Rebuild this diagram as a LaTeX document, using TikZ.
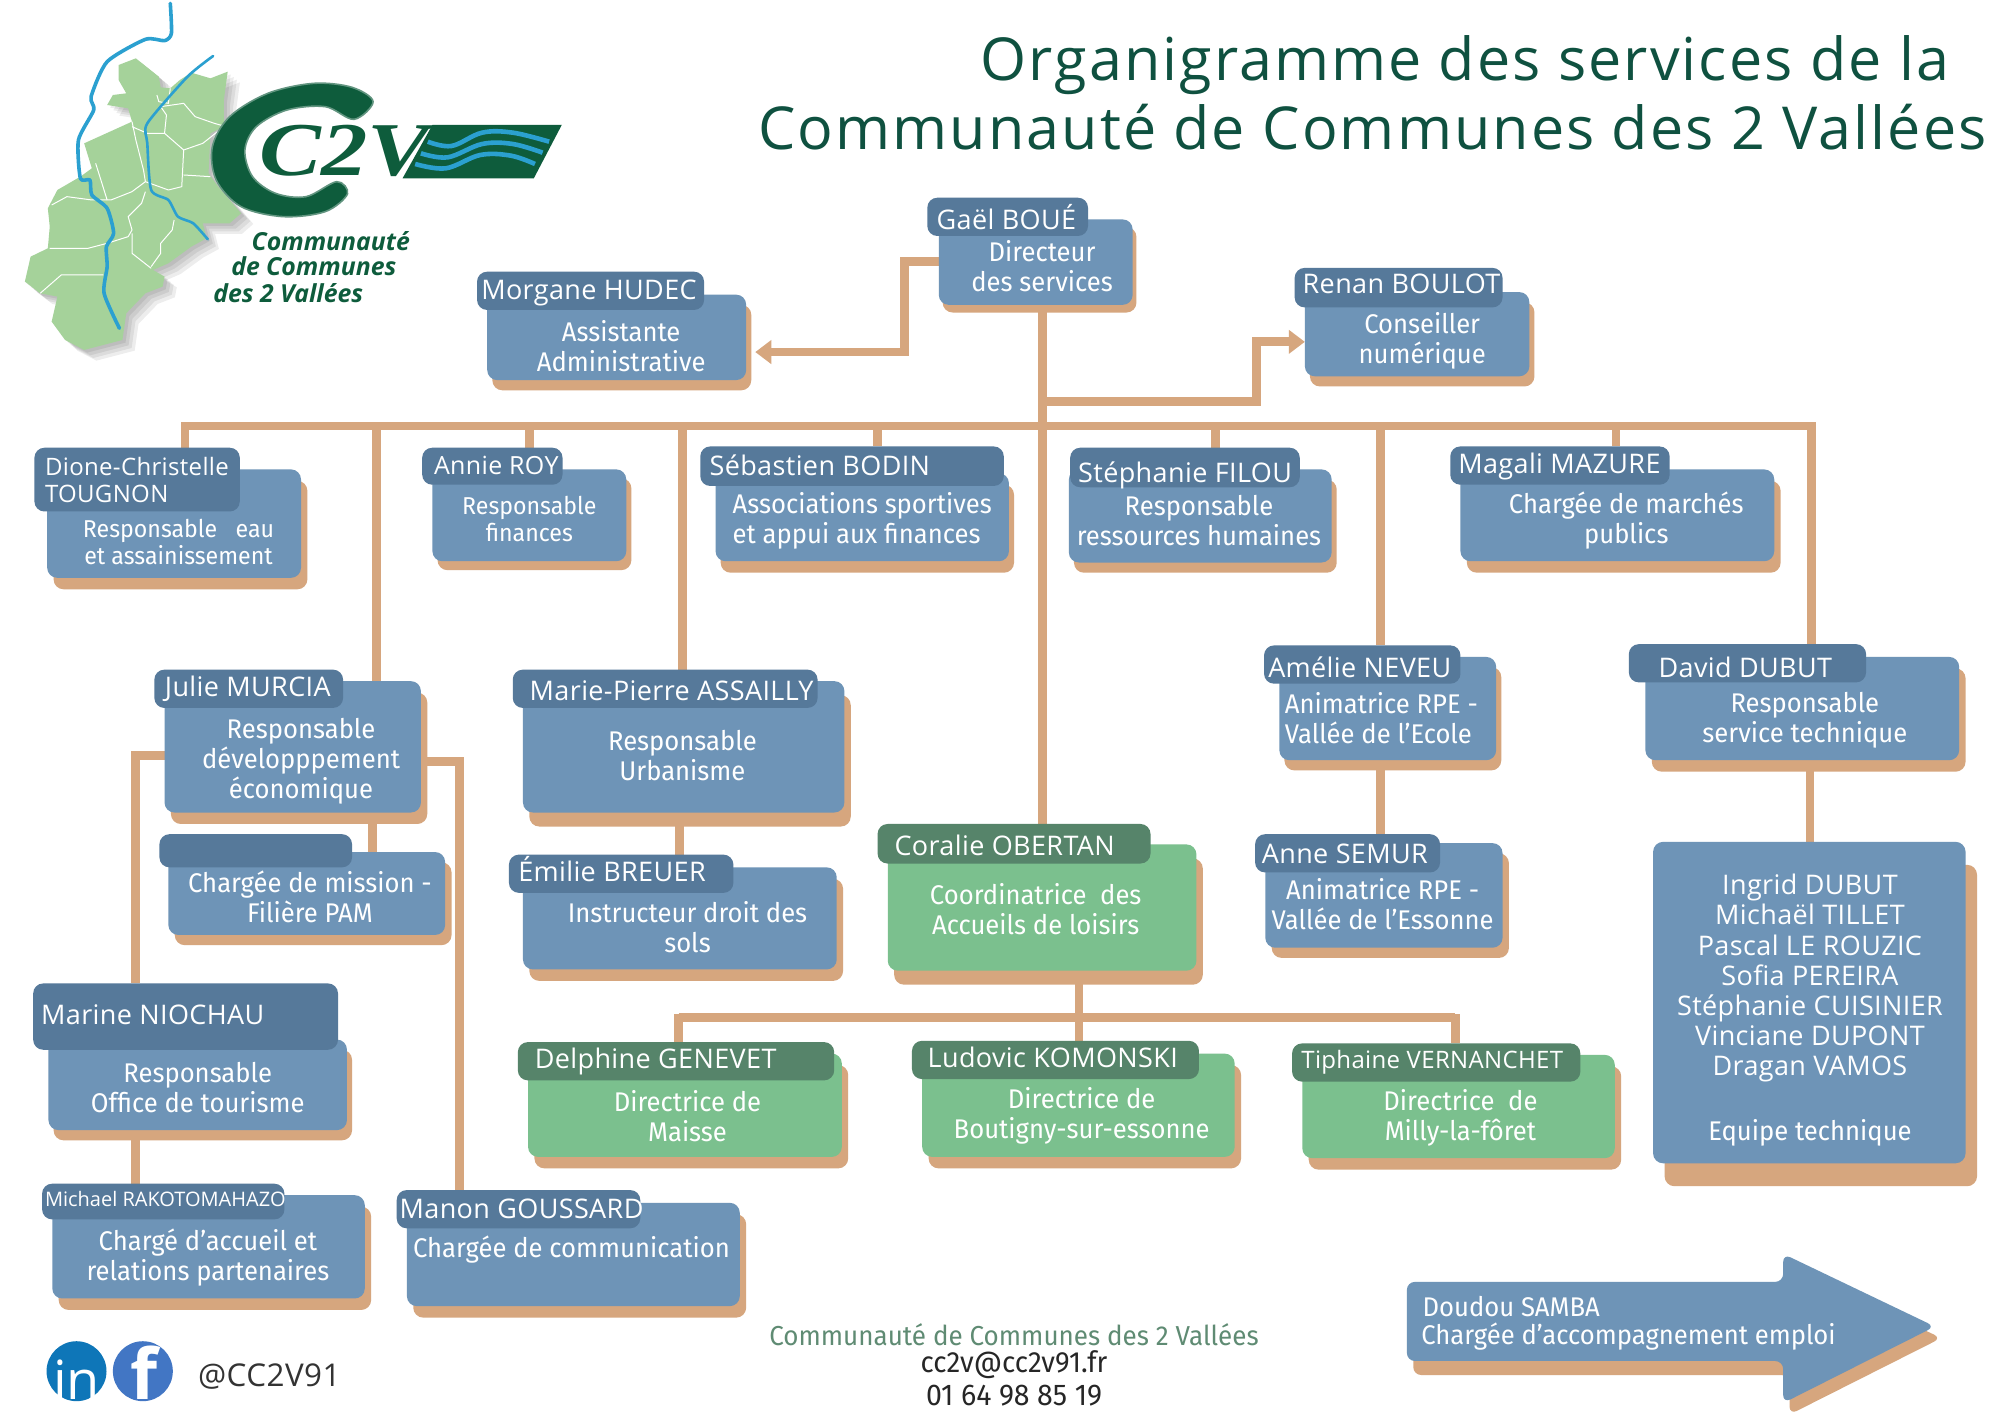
\documentclass[tikz,border=0pt]{standalone}
\usepackage{fontspec}
\usetikzlibrary{arrows.meta,calc}
\setmainfont{Open Sans}
\newfontfamily\nmf[LetterSpace=1.4]{Open Sans}
\newfontfamily\bdf[FakeStretch=0.95]{Fira Sans}
\newfontfamily\ttlf[LetterSpace=3.5]{Open Sans}
\newfontfamily\logof{Liberation Serif}
\definecolor{bodyblue}{HTML}{6E94B7}
\definecolor{headblue}{HTML}{56799A}
\definecolor{tan}{HTML}{D6A67E}
\definecolor{bodygreen}{HTML}{7BC08E}
\definecolor{headgreen}{HTML}{56846A}
\definecolor{titlegreen}{HTML}{0F5140}
\definecolor{footgreen}{HTML}{5F8B73}
\definecolor{logogreen}{HTML}{0E5C3C}
\definecolor{mapgreen}{HTML}{A5D29A}
\definecolor{river}{HTML}{2BA0D0}
\definecolor{linkedblue}{HTML}{0E76B8}
\definecolor{fbblue}{HTML}{4276C4}
\pgfdeclarelayer{links}
\pgfsetlayers{links,main}
\newlength{\uu}
\setlength{\uu}{0.6378pt}
\tikzset{
  shapebox/.style={rounded corners=5pt,inner sep=0pt,outer sep=0pt},
  bluebody/.style={fill=bodyblue},
  greenbody/.style={fill=bodygreen},
  shadowbox/.style={fill=tan},
  bluehead/.style={fill=headblue},
  greenhead/.style={fill=headgreen},
  link/.style={draw=tan,line width=4.4pt,line cap=butt,line join=miter},
  linkarrow/.style={link,-{Triangle[length=8pt,width=11.5pt]}},
  nametext/.style={text=white,inner sep=0pt,font=\nmf\fontsize{13.5}{15}\selectfont},
  bodytext/.style={text=white,inner sep=0pt,align=center,font=\bdf\fontsize{13.5}{15}\selectfont},
  smallbody/.style={bodytext,font=\bdf\fontsize{12.2}{13.5}\selectfont},
  titletext/.style={text=titlegreen,inner sep=0pt,anchor=base,font=\ttlf\fontsize{29.6}{30}\selectfont},
  logotext/.style={text=logogreen,inner sep=0pt,anchor=base west,font=\bfseries\itshape\fontsize{12.4}{12}\selectfont},
  foottext/.style={inner sep=0pt,font=\bdf\fontsize{13.5}{15}\selectfont},
  riverline/.style={draw=river,line width=1.8pt,line join=round,line cap=round},
  boundary/.style={draw=white,line width=.5pt,line join=round},
}
% \cardb{id}{x0}{y0}{x1}{y1}{style}{shadow dx}{shadow dy}
\newcommand\cardb[8]{%
  \node[shapebox,shadowbox,minimum width={(#4-#2)*\uu},minimum height={(#5-#3)*\uu}] (#1-s) at ({(#2+#4)/2+#7},{(#3+#5)/2+#8}) {};
  \node[shapebox,#6,minimum width={(#4-#2)*\uu},minimum height={(#5-#3)*\uu}] (#1) at ({(#2+#4)/2},{(#3+#5)/2}) {};
}
% \hdr{id}{x0}{y0}{x1}{y1}{style}
\newcommand\hdr[6]{%
  \node[shapebox,#6,minimum width={(#4-#2)*\uu},minimum height={(#5-#3)*\uu}] (#1-h) at ({(#2+#4)/2},{(#3+#5)/2}) {};
}
% \nm{id}{x}{baseline y}{text}{extra}
\newcommand\nm[5]{\node[nametext,anchor=base west,#5] (#1-n) at (#2,#3) {#4};}
% \lbl{id}{cx}{cy}{text}{style}
\newcommand\lbl[5]{\node[#5] (#1-t) at (#2,#3) {#4};}
\begin{document}
\begin{tikzpicture}[x=\uu,y=-\uu]
\useasboundingbox (0,0) rectangle (1568,1108.6);
\begin{pgfonlayer}{links}
\fill[white] (0,0) rectangle (1568,1108.6);
\end{pgfonlayer}
% ---------- logo
\begin{scope}[x=0.19134pt,y=-0.16666pt]
\def\mapshape{(310,195)--(355,175)--(415,230)--(420,262)--(445,265)--(470,240)--(500,218)--(550,235)--(595,215)--(585,300)--(585,380)--(550,400)--(545,520)--(570,560)--(630,640)--(600,670)--(530,670)--(540,715)--(500,740)--(440,790)--(400,810)--(430,830)--(425,860)--(380,880)--(330,940)--(320,1020)--(220,1050)--(170,1020)--(135,965)--(150,890)--(105,880)--(65,845)--(80,770)--(125,745)--(130,680)--(125,625)--(150,570)--(210,530)--(240,505)--(220,430)--(345,365)--(335,325)--(280,315)--(295,285)--(330,280)--(310,240)--cycle}
\foreach \d in {8,16,24,32}{
  \fill[black,opacity=.07,shift={(\d*.19134pt,-\d*.1667pt)}] \mapshape;
}
\fill[mapgreen] \mapshape;
\draw[boundary] (345,365)--(355,420)--(375,510)--(380,545)--(345,575)--(290,600)--(280,600)--(250,490);
\draw[boundary] (380,545)--(440,570)--(475,560)--(480,450)--(430,400)--(385,400)--(345,380);
\draw[boundary] (480,450)--(530,430)--(585,380);
\draw[boundary] (480,525)--(550,530);
\draw[boundary] (430,400)--(435,345)--(420,320)--(480,310)--(510,350)--(560,370)--(585,378);
\draw[boundary] (410,285)--(415,305)--(440,310)--(445,265);
\draw[boundary] (135,615)--(175,590)--(240,600)--(280,600);
\draw[boundary] (380,575)--(370,610)--(335,650)--(345,690)--(335,710)--(280,730)--(230,745)--(130,745);
\draw[boundary] (345,700)--(345,760)--(395,805);
\draw[boundary] (455,660)--(450,690)--(420,730)--(420,760)--(395,800);
\draw[boundary] (105,880)--(160,825)--(270,825);
\draw[riverline] plot[smooth,tension=.4] coordinates {(445,10)(448,100)(430,122)(380,118)(280,185)(238,290)(245,330)(205,420)(210,535)(235,540)(240,585)(280,625)(297,700)(278,740)(280,800)(272,880)(312,985)};
\draw[riverline,line width=1.3pt] plot[smooth,tension=.4] coordinates {(557,168)(490,230)(385,370)(385,430)(395,570)(440,600)(465,650)(505,670)(543,718)};
% big C
\fill[logogreen,draw=logogreen!65!white,line width=.8pt] plot[smooth cycle,tension=.55] coordinates {(975,305)(920,262)(820,250)(700,280)(600,350)(555,440)(565,540)(630,620)(740,650)(850,635)(908,582)(880,545)(800,590)(720,580)(660,530)(640,450)(670,380)(750,330)(850,320)(925,358)};
% flag
\fill[logogreen] (1130,375)--(1468,375)--(1395,535)--(1052,535)--cycle;
\draw[river,line width=2.3pt] plot[smooth,tension=.6] coordinates {(1118,425)(1180,438)(1260,398)(1340,398)(1435,425)};
\draw[river,line width=2.3pt] plot[smooth,tension=.6] coordinates {(1100,460)(1170,472)(1260,432)(1340,432)(1418,458)};
\draw[river,line width=2.3pt] plot[smooth,tension=.6] coordinates {(1085,492)(1165,505)(1255,465)(1335,467)(1398,492)};
\node[text=logogreen,inner sep=0pt,font=\logof\itshape\bfseries\fontsize{38}{38}\selectfont] (logoname) at (900,452) {\scalebox{1.22}[1]{C2V}};
\end{scope}
\node[logotext] (logo1) at (197,196) {Communauté};
\node[logotext] (logo2) at (181,216) {de Communes};
\node[logotext] (logo3) at (167,237) {des 2 Vallées};
% ---------- title
\node[titletext] (title1) at (1148.5,63) {Organigramme des services de la};
\node[titletext] (title2) at (1076,117) {Communauté de Communes des 2 Vallées};
% ---------- cards
\cardb{gael}{736}{172}{888}{239}{bluebody}{3}{6}
\hdr{gael}{727}{155}{853}{185}{bluehead}
\nm{gael}{734}{180}{Gaël BOUÉ}{}
\lbl{gael}{817}{209}{Directeur\\des services}{bodytext}

\cardb{morgane}{382}{231}{585}{298}{bluebody}{4}{8}
\hdr{morgane}{374}{213}{552}{243}{bluehead}
\nm{morgane}{377}{235}{Morgane HUDEC}{}
\lbl{morgane}{487}{271}{Assistante\\Administrative}{bodytext}

\cardb{renan}{1023}{229}{1199}{295}{bluebody}{4}{8}
\hdr{renan}{1015}{210}{1178}{241}{bluehead}
\nm{renan}{1021}{230}{Renan BOULOT}{}
\lbl{renan}{1115}{267}{Conseiller\\numérique}{bodytext}

\cardb{dione}{37}{368}{236}{453}{bluebody}{5}{9}
\hdr{dione}{27}{351}{188}{401}{bluehead}
\node[nametext,align=left,anchor=north west,font=\nmf\fontsize{12}{13.5}\selectfont] (dione-n) at (35,358) {Dione-Christelle\\TOUGNON};
\lbl{dione}{140}{425}{Responsable\ \ \ eau\\et assainissement}{smallbody}

\cardb{annie}{339}{368}{491}{440}{bluebody}{4}{7}
\hdr{annie}{331}{351}{441}{380}{bluehead}
\nm{annie}{340}{372}{Annie ROY}{font=\nmf\fontsize{12.5}{14}\selectfont}
\lbl{annie}{415}{407}{Responsable\\finances}{smallbody}

\cardb{seb}{561}{371}{791}{440}{bluebody}{4}{9}
\hdr{seb}{549}{350}{787}{381}{bluehead}
\nm{seb}{556}{373}{Sébastien BODIN}{}
\node[bodytext,align=left] (seb-t) at (676,408) {Associations sportives\\et appui aux finances};

\cardb{steph}{838}{368}{1044}{441}{bluebody}{4}{8}
\hdr{steph}{839}{351}{1019}{382}{bluehead}
\nm{steph}{845}{378}{Stéphanie FILOU}{}
\lbl{steph}{940}{408}{Responsable\\ressources humaines}{bodytext}

\cardb{magali}{1145}{368}{1391}{440}{bluebody}{5}{9}
\hdr{magali}{1137}{350}{1309}{380}{bluehead}
\nm{magali}{1143}{371}{Magali MAZURE}{}
\lbl{magali}{1275}{408}{Chargée de marchés\\publics}{bodytext}

\cardb{julie}{129}{534}{330}{637}{bluebody}{5}{9}
\hdr{julie}{121}{525}{269}{555}{bluehead}
\nm{julie}{129}{546}{Julie MURCIA}{}
\lbl{julie}{236}{597}{Responsable\\développpement\\économique}{bodytext}

\cardb{mp}{410}{534}{662}{637}{bluebody}{5}{11}
\hdr{mp}{402}{525}{641}{555}{bluehead}
\nm{mp}{415}{549}{Marie-Pierre ASSAILLY}{}
\lbl{mp}{535}{592}{Responsable\\Urbanisme}{bodytext}

\cardb{amelie}{1003}{515}{1173}{596}{bluebody}{4}{8}
\hdr{amelie}{991}{506}{1145}{536}{bluehead}
\nm{amelie}{994}{531}{Amélie NEVEU}{}
\node[bodytext,align=left,anchor=west] (amelie-t) at (1007,563) {Animatrice RPE -\\Vallée de l’Ecole};

\cardb{david}{1290}{515}{1536}{596}{bluebody}{5}{9}
\hdr{david}{1277}{505}{1463}{535}{bluehead}
\nm{david}{1300}{531}{David DUBUT}{}
\lbl{david}{1415}{565}{Responsable\\service technique}{bodytext}

\cardb{mission}{132}{668}{349}{733}{bluebody}{5}{8}
\hdr{mission}{125}{654}{276}{680}{bluehead}
\lbl{mission}{243}{703}{Chargée de mission -\\Filière PAM}{bodytext}

\cardb{emilie}{410}{680}{656}{760}{bluebody}{5}{9}
\hdr{emilie}{399}{670}{575}{700}{bluehead}
\nm{emilie}{406}{691}{Émilie BREUER}{}
\lbl{emilie}{539}{727}{Instructeur droit des\\sols}{bodytext}

\cardb{coralie}{696}{662}{938}{761}{greenbody}{5}{11}
\hdr{coralie}{688}{646}{902}{677}{greenhead}
\nm{coralie}{701}{671}{Coralie OBERTAN}{}
\lbl{coralie}{812}{713}{Coordinatrice\ \ des\\Accueils de loisirs}{bodytext}

\cardb{anne}{992}{661}{1178}{743}{bluebody}{5}{8}
\hdr{anne}{984}{654}{1129}{684}{bluehead}
\nm{anne}{989}{677}{Anne SEMUR}{}
\lbl{anne}{1084}{709}{Animatrice RPE -\\Vallée de l’Essonne}{bodytext}

\cardb{team}{1296}{660}{1541}{912}{bluebody}{9}{18}
\node[nametext,align=center,anchor=north,font=\nmf\fontsize{13.5}{15.1}\selectfont] (team-n) at (1419,685) {Ingrid DUBUT\\Michaël TILLET\\Pascal LE ROUZIC\\Sofia PEREIRA\\Stéphanie CUISINIER\\Vinciane DUPONT\\Dragan VAMOS};
\lbl{team}{1419}{888}{Equipe technique}{bodytext}

\cardb{marine}{38}{815}{272}{886}{bluebody}{4}{8}
\hdr{marine}{26}{771}{265}{823}{bluehead}
\nm{marine}{32}{803}{Marine NIOCHAU}{}
\lbl{marine}{155}{853}{Responsable\\Office de tourisme}{bodytext}

\cardb{delphine}{414}{826}{660}{907}{greenbody}{5}{9}
\hdr{delphine}{406}{817}{654}{847}{greenhead}
\nm{delphine}{419}{838}{Delphine GENEVET}{}
\lbl{delphine}{539}{875}{Directrice de\\Maisse}{bodytext}

\cardb{ludovic}{723}{826}{968}{907}{greenbody}{5}{9}
\hdr{ludovic}{715}{816}{940}{846}{greenhead}
\nm{ludovic}{727}{837}{Ludovic KOMONSKI}{}
\lbl{ludovic}{848}{875}{Directrice de\\Boutigny-sur-essonne}{bodytext}

\cardb{tiphaine}{1021}{827}{1266}{908}{greenbody}{5}{9}
\hdr{tiphaine}{1013}{818}{1239}{848}{greenhead}
\nm{tiphaine}{1020}{838}{Tiphaine VERNANCHET}{font=\nmf\fontsize{12}{14}\selectfont}
\lbl{tiphaine}{1145}{876}{Directrice\ \ de\\Milly-la-fôret}{bodytext}

\cardb{michael}{41}{937}{286}{1018}{bluebody}{5}{9}
\hdr{michael}{33}{928}{223}{956}{bluehead}
\nm{michael}{35}{946}{Michael RAKOTOMAHAZO}{font=\fontsize{10}{12}\selectfont}
\lbl{michael}{163}{986}{Chargé d’accueil et\\relations partenaires}{bodytext}

\cardb{manon}{319}{943}{580}{1024}{bluebody}{5}{9}
\hdr{manon}{311}{933}{502}{963}{bluehead}
\nm{manon}{313}{955}{Manon GOUSSARD}{}
\lbl{manon}{448}{980}{Chargée de communication}{bodytext}

% ---------- arrow card
\fill[tan,rounded corners=4pt] (1108,1015)--(1403,1015)--(1403,993)--(1522,1049)--(1403,1109)--(1403,1078)--(1108,1078)--cycle;
\fill[bodyblue,rounded corners=4pt] (1103,1005)--(1398,1005)--(1398,983)--(1517,1040)--(1398,1100)--(1398,1067)--(1103,1067)--cycle;
\node[text=white,inner sep=0pt,anchor=base west,font=\bdf\fontsize{13.5}{15}\selectfont] (doudou1) at (1115,1032) {Doudou SAMBA};
\node[text=white,inner sep=0pt,anchor=base west,font=\bdf\fontsize{13.5}{15}\selectfont] (doudou2) at (1114,1054) {Chargée d’accompagnement emploi};
% ---------- footer
\node[foottext,text=footgreen,font=\bdf\fontsize{13.7}{15}\selectfont] (foot1) at (795,1046) {Communauté de Communes des 2 Vallées};
\node[foottext,text=black!85,font=\bdf\fontsize{14.6}{15}\selectfont] (foot2) at (795,1070) {cc2v@cc2v91.fr};
\node[foottext,text=black!85,font=\bdf\fontsize{15}{15}\selectfont] (foot3) at (795,1094) {01 64 98 85 19};
\node[circle,fill=linkedblue,minimum size={47*\uu},inner sep=0pt] (linkedin) at (60,1075) {};
\node[text=white,inner sep=0pt,anchor=base,font=\fontsize{27}{27}\selectfont] (in-t) at (60,1097) {in};
\node[circle,fill=fbblue,minimum size={47*\uu},inner sep=0pt] (facebook) at (112,1075) {};
\node[text=white,inner sep=0pt,anchor=base,font=\bfseries\fontsize{35}{35}\selectfont] (fb-f) at (113,1097) {f};
\node[text=black!80,inner sep=0pt,anchor=west,font=\nmf\fontsize{15.7}{16}\selectfont] (handle) at (155,1079) {@CC2V91};
% ---------- coordinates for the connectors
\coordinate (busl) at (142,334);
\coordinate (busr) at (1423,334);
\coordinate (busc) at (817,334);
\coordinate (a1) at (709,205);
\coordinate (a2) at (709,276);
\coordinate (a3) at (985,315);
\coordinate (a4) at (985,268);
\coordinate (j1) at (106,592);
\coordinate (j2) at (360,597);
\coordinate (gbus) at (846,798);
\coordinate (gl) at (532,798);
\coordinate (gr) at (1141,798);
\coordinate (bdi) at (145,331);
\coordinate (bj) at (295,334);
\coordinate (ba) at (415,334);
\coordinate (bm) at (535,334);
\coordinate (bs) at (688,334);
\coordinate (bt) at (953,334);
\coordinate (bn) at (1082,334);
\coordinate (bg) at (1267,334);
\coordinate (bd) at (1420,331);
\coordinate (dt) at (1419,596);
\coordinate (jd) at (292,637);
\coordinate (me) at (533,637);
\coordinate (gle) at (532,795);
\coordinate (gre) at (1141,795);
\begin{pgfonlayer}{links}
\draw[link] (busl) -- (busr);
\draw[link] (busc |- gael.south) -- (busc |- coralie-h.north);
\draw[link] (bdi) -- (bdi |- dione-h.north);
\draw[link] (bj) -- (bj |- julie.north);
\draw[link] (ba) -- (ba |- annie-h.north);
\draw[link] (bm) -- (bm |- mp-h.north);
\draw[link] (bs) -- (bs |- seb-h.north);
\draw[link] (bt) -- (bt |- steph-h.north);
\draw[link] (bn) -- (bn |- amelie-h.north);
\draw[link] (bg) -- (bg |- magali-h.north);
\draw[link] (bd) -- (bd |- david.north);
\draw[link] (dt) -- (dt |- team.north);
\draw[link] (bn |- amelie.south) -- (bn |- anne-h.north);
\draw[linkarrow] (gael.west |- a1) -- (a1) -- (a2) -- ([xshift=2pt]morgane-s.east |- a2);
\draw[linkarrow] (busc |- a3) -- (a3) -- (a4) -- (renan.west |- a4);
\draw[link] (julie.west |- j1) -- (j1) -- (j1 |- marine-h.north);
\draw[link] (j1 |- marine.south) -- (j1 |- michael-h.north);
\draw[link] (julie.east |- j2) -- (j2) -- (j2 |- manon-h.north);
\draw[link] (jd) -- (jd |- mission.north);
\draw[link] (me) -- (me |- emilie-h.north);
\draw[link] (gbus |- coralie.south) -- (gbus);
\draw[link] (gl) -- (gr);
\draw[link] (gle) -- (gle |- delphine-h.north);
\draw[link] (gbus) -- (gbus |- ludovic-h.north);
\draw[link] (gre) -- (gre |- tiphaine-h.north);
\end{pgfonlayer}
\end{tikzpicture}
\end{document}
